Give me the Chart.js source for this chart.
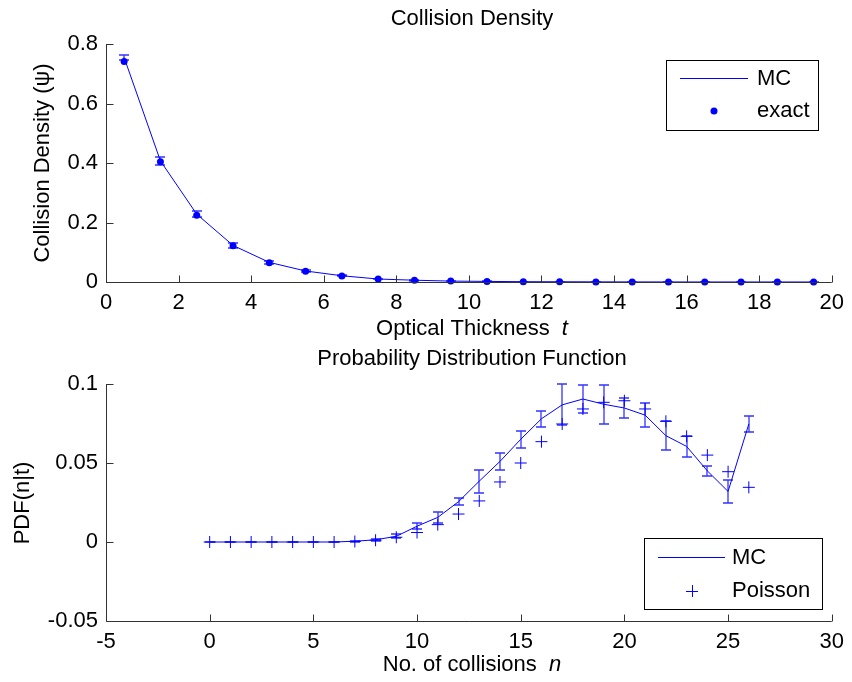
<!DOCTYPE html>
<html>
<head>
<meta charset="utf-8">
<script src="https://cdn.jsdelivr.net/npm/chart.js@4.4.0/dist/chart.umd.min.js"></script>
<style>
  body { margin: 0; background: #fff; }
  #wrap { position: relative; width: 852px; height: 682px; }
  canvas { position: absolute; left: 0; }
  #densityChart { top: 0; }
  #pdfChart { top: 340px; }
</style>
</head>
<body>
<div id="wrap">
  <canvas id="densityChart" width="852" height="340"></canvas>
  <canvas id="pdfChart" width="852" height="342"></canvas>
</div>
<script>
const FONT = "'Liberation Sans', Arial, sans-serif";
const FONT_SIZE = 22;
const BLUE = "#0000ff";

// TOP PLOT: collision density vs optical thickness
const thickness = [0.5, 1.5, 2.5, 3.5, 4.5, 5.5, 6.5, 7.5, 8.5, 9.5, 10.5, 11.5, 12.5, 13.5, 14.5, 15.5, 16.5, 17.5, 18.5, 19.5];
const mcDensity = [0.7545, 0.407, 0.228, 0.123, 0.066, 0.037, 0.021, 0.010, 0.006, 0.003, 0.002, 0.001, 0.0008, 0.0005, 0.0003, 0.0002, 0.0001, 0.0001, 0.0001, 0.00005];
const mcDensityErr = [0.0085, 0.014, 0.011, 0.009, 0.004, 0.003, 0.002, 0.0015, 0.001, 0.001, 0.0008, 0.0005, 0.0005, 0.0004, 0.0003, 0.0002, 0.0002, 0.0001, 0.0001, 0.0001];
const exactDensity = [0.741, 0.404, 0.224, 0.122, 0.065, 0.036, 0.020, 0.010, 0.006, 0.003, 0.002, 0.001, 0.0006, 0.0004, 0.0002, 0.0001, 0.0001, 0.00005, 0.00003, 0.00002];
const thicknessTicks = [0, 2, 4, 6, 8, 10, 12, 14, 16, 18, 20];
const densityTicks = [0, 0.2, 0.4, 0.6, 0.8];

// BOTTOM PLOT: PDF of number of collisions
const collisions = [0, 1, 2, 3, 4, 5, 6, 7, 8, 9, 10, 11, 12, 13, 14, 15, 16, 17, 18, 19, 20, 21, 22, 23, 24, 25, 26];
const mcPdf = [0, 0, 0, 0, 0, 0, 0, 0.0005, 0.0014, 0.0036, 0.0100, 0.0156, 0.0255, 0.0385, 0.0510, 0.0650, 0.0780, 0.0868, 0.0905, 0.0872, 0.0848, 0.0803, 0.0673, 0.0605, 0.0450, 0.0320, 0.0747];
const mcPdfErr = [0, 0, 0, 0, 0, 0, 0, 0.0004, 0.0008, 0.0012, 0.0018, 0.0036, 0.0022, 0.0072, 0.0053, 0.0052, 0.0052, 0.0129, 0.0090, 0.0122, 0.0066, 0.0077, 0.0090, 0.0066, 0.0032, 0.0074, 0.0053];
const poissonPdf = [0, 0, 0, 0, 0, 0, 0, 0.0003, 0.0011, 0.003, 0.006, 0.011, 0.0177, 0.026, 0.038, 0.050, 0.0635, 0.0747, 0.0842, 0.0884, 0.0894, 0.0842, 0.0764, 0.0669, 0.055, 0.0445, 0.0346];
const collisionTicks = [-5, 0, 5, 10, 15, 20, 25, 30];
const pdfTicks = [-0.05, 0, 0.05, 0.1];

function font(italic) {
  return (italic ? "italic " : "") + FONT_SIZE + "px " + FONT;
}

function fmt(v) {
  return String(+v.toFixed(4));
}

// draw a label made of normal/italic pieces, centred on cx
function drawParts(ctx, parts, cx, baseline) {
  let total = 0;
  parts.forEach(p => { ctx.font = font(p[1]); total += ctx.measureText(p[0]).width; });
  let x = cx - total / 2;
  ctx.textAlign = "left";
  ctx.textBaseline = "alphabetic";
  parts.forEach(p => {
    ctx.font = font(p[1]);
    ctx.fillText(p[0], x, baseline);
    x += ctx.measureText(p[0]).width;
  });
}

function drawYLabel(ctx, text, cx, cy) {
  ctx.save();
  ctx.translate(cx, cy);
  ctx.rotate(-Math.PI / 2);
  ctx.font = font(false);
  ctx.textAlign = "center";
  ctx.textBaseline = "middle";
  ctx.fillText(text, 0, 0);
  ctx.restore();
}

// matlab style axes: left + bottom lines, ticks pointing inwards
const matlabAxes = {
  id: "matlabAxes",
  afterDraw(chart) {
    const { ctx, chartArea: a, scales: { x, y } } = chart;
    const L = Math.round(a.left) + 0.5;
    const B = Math.round(a.bottom) + 0.5;
    ctx.save();
    ctx.strokeStyle = "#333";
    ctx.lineWidth = 1;
    ctx.beginPath();
    ctx.moveTo(L, a.top);
    ctx.lineTo(L, B);
    ctx.lineTo(a.right, B);
    x.ticks.forEach(t => {
      const px = Math.round(x.getPixelForValue(t.value)) + 0.5;
      ctx.moveTo(px, B);
      ctx.lineTo(px, B - 7);
    });
    y.ticks.forEach(t => {
      const py = Math.round(y.getPixelForValue(t.value)) + 0.5;
      ctx.moveTo(L, py);
      ctx.lineTo(L + 7, py);
    });
    ctx.stroke();
    ctx.restore();
  }
};

// error bars drawn slightly soft, like the anti-aliased matlab ones
function errorBars(values, errs) {
  return {
    id: "errorBars",
    afterDatasetsDraw(chart) {
      const { ctx, scales: { x, y } } = chart;
      const pts = chart.data.datasets[0].data;
      ctx.save();
      ctx.strokeStyle = "rgba(0,0,255,0.8)";
      ctx.lineWidth = 1.3;
      ctx.beginPath();
      pts.forEach((p, i) => {
        const px = Math.round(x.getPixelForValue(p.x));
        const top = Math.round(y.getPixelForValue(values[i] + errs[i]));
        const bot = Math.round(y.getPixelForValue(values[i] - errs[i]));
        ctx.moveTo(px, top); ctx.lineTo(px, bot);
        ctx.moveTo(px - 5, top); ctx.lineTo(px + 5, top);
        ctx.moveTo(px - 5, bot); ctx.lineTo(px + 5, bot);
      });
      ctx.stroke();
      ctx.restore();
    }
  };
}

function scaleOpts(min, max, tickList, fitKey, fitSize) {
  return {
    type: "linear",
    min, max,
    afterBuildTicks: s => { s.ticks = tickList.map(v => ({ value: v })); },
    afterFit: s => { s[fitKey] = fitSize; },
    grid: { display: false, drawTicks: false },
    border: { display: false },
    ticks: {
      color: "#000",
      font: { family: FONT, size: FONT_SIZE },
      padding: 8,
      maxRotation: 0,
      autoSkip: false,
      callback: v => fmt(v)
    }
  };
}

function baseOptions(xScale, yScale, bottomPad) {
  return {
    responsive: false,
    animation: false,
    devicePixelRatio: 1,
    layout: { padding: { left: 0, right: 14, top: 44, bottom: bottomPad } },
    plugins: { legend: { display: false }, tooltip: { enabled: false } },
    scales: { x: xScale, y: yScale }
  };
}

// COLLISION DENSITY
const densityText = {
  id: "densityText",
  afterDraw(chart) {
    const ctx = chart.ctx;
    ctx.save();
    ctx.fillStyle = "#000";
    drawParts(ctx, [["Collision Density", false]], 472, 25);
    drawParts(ctx, [["Optical Thickness  ", false], ["t", true]], 472, 335);
    drawYLabel(ctx, "Collision Density (\u03c8)", 43, 163);

    // legend
    ctx.fillStyle = "#fff";
    ctx.fillRect(666, 60, 152, 70);
    ctx.strokeStyle = "#000";
    ctx.lineWidth = 1;
    ctx.strokeRect(666.5, 60.5, 152, 70);
    ctx.strokeStyle = BLUE;
    ctx.beginPath();
    ctx.moveTo(680, 78.5);
    ctx.lineTo(748, 78.5);
    ctx.stroke();
    ctx.fillStyle = BLUE;
    ctx.beginPath();
    ctx.arc(714, 111, 3.5, 0, Math.PI * 2);
    ctx.fill();
    ctx.fillStyle = "#000";
    ctx.font = font(false);
    ctx.textAlign = "left";
    ctx.textBaseline = "middle";
    ctx.fillText("MC", 757, 79);
    ctx.fillText("exact", 757, 111);
    ctx.restore();
  }
};

new Chart(document.getElementById("densityChart"), {
  type: "scatter",
  data: {
    datasets: [
      {
        label: "MC",
        data: thickness.map((t, i) => ({ x: t, y: mcDensity[i] })),
        showLine: true,
        borderColor: BLUE,
        borderWidth: 1,
        pointRadius: 0,
        clip: false
      },
      {
        label: "exact",
        data: thickness.map((t, i) => ({ x: t, y: exactDensity[i] })),
        showLine: false,
        backgroundColor: BLUE,
        borderWidth: 0,
        pointRadius: 3.5,
        clip: false
      }
    ]
  },
  options: baseOptions(
    scaleOpts(0, 20, thicknessTicks, "height", 58),
    scaleOpts(0, 0.8, densityTicks, "width", 106),
    0
  ),
  plugins: [matlabAxes, errorBars(mcDensity, mcDensityErr), densityText]
});

// PROBABILITY DISTRIBUTION FUNCTION
const pdfText = {
  id: "pdfText",
  afterDraw(chart) {
    const ctx = chart.ctx;
    ctx.save();
    ctx.fillStyle = "#000";
    drawParts(ctx, [["Probability Distribution Function", false]], 472, 25);
    drawParts(ctx, [["No. of collisions  ", false], ["n", true]], 472, 331);
    drawYLabel(ctx, "PDF(n|t)", 23, 163);

    // legend
    ctx.fillStyle = "#fff";
    ctx.fillRect(644, 198, 178, 71);
    ctx.strokeStyle = "#000";
    ctx.lineWidth = 1;
    ctx.strokeRect(644.5, 198.5, 178, 71);
    ctx.strokeStyle = BLUE;
    ctx.beginPath();
    ctx.moveTo(658, 217.5);
    ctx.lineTo(725, 217.5);
    ctx.moveTo(692.5, 245);
    ctx.lineTo(692.5, 257);
    ctx.moveTo(686, 251.5);
    ctx.lineTo(698, 251.5);
    ctx.stroke();
    ctx.fillStyle = "#000";
    ctx.font = font(false);
    ctx.textAlign = "left";
    ctx.textBaseline = "middle";
    ctx.fillText("MC", 732, 218);
    ctx.fillText("Poisson", 732, 251);
    ctx.restore();
  }
};

new Chart(document.getElementById("pdfChart"), {
  type: "scatter",
  data: {
    datasets: [
      {
        label: "MC",
        data: collisions.map((n, i) => ({ x: n, y: mcPdf[i] })),
        showLine: true,
        borderColor: BLUE,
        borderWidth: 1,
        pointRadius: 0,
        clip: false
      },
      {
        label: "Poisson",
        data: collisions.map((n, i) => ({ x: n, y: poissonPdf[i] })),
        showLine: false,
        pointStyle: "cross",
        pointRadius: 6,
        borderColor: BLUE,
        borderWidth: 1,
        clip: false
      }
    ]
  },
  options: baseOptions(
    scaleOpts(-5, 30, collisionTicks, "height", 61),
    scaleOpts(-0.05, 0.1, pdfTicks, "width", 106),
    0
  ),
  plugins: [matlabAxes, errorBars(mcPdf, mcPdfErr), pdfText]
});
</script>
</body>
</html>
